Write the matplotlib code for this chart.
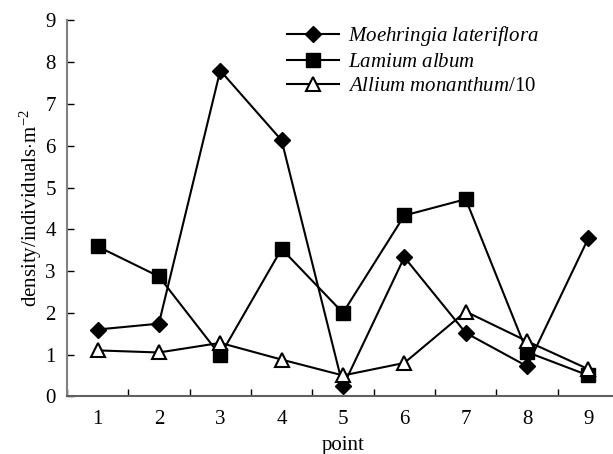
import matplotlib.pyplot as plt

plt.rcParams['font.family'] = 'Liberation Serif'
plt.rcParams['mathtext.fontset'] = 'custom'
plt.rcParams['mathtext.rm'] = 'Liberation Serif'
plt.rcParams['mathtext.it'] = 'Liberation Serif:italic'

points = [1, 2, 3, 4, 5, 6, 7, 8, 9]
moehringia = [1.60, 1.74, 7.80, 6.13, 0.24, 3.33, 1.52, 0.72, 3.79]
lamium = [3.59, 2.87, 0.98, 3.53, 2.00, 4.33, 4.72, 1.06, 0.50]
allium = [1.10, 1.05, 1.28, 0.88, 0.50, 0.80, 2.03, 1.32, 0.65]

fig = plt.figure(figsize=(6.13, 4.54), dpi=100)
# axes run past the right edge of the picture, like the original
ax = fig.add_axes([0.109, 0.127, 0.901, 0.828])

ax.plot(points, moehringia, color='black', linewidth=1.5, marker='D', markersize=8,
        label=r'$\mathit{Moehringia\ lateriflora}$')
ax.plot(points, lamium, color='black', linewidth=1.5, marker='s', markersize=10,
        label=r'$\mathit{Lamium\ album}$')
ax.plot(points, allium, color='black', linewidth=1.5, marker='^', markersize=10,
        markerfacecolor='white', markeredgewidth=1.5,
        label=r'$\mathit{Allium\ monanthum}$/10')

ax.set_xlim(0.5, 9.5)
ax.set_ylim(0, 9)
ax.set_xticks(points)
ax.set_xticks([p - 0.5 for p in points] + [9.5], minor=True)
ax.tick_params(axis='x', which='major', length=0, labelsize=15, pad=10)
ax.tick_params(axis='x', which='minor', length=5, width=1, direction='in')
ax.set_yticks(range(10))
ax.tick_params(axis='y', length=5, width=1, direction='in', labelsize=15, pad=8)

ax.spines['top'].set_visible(False)
ax.spines['right'].set_visible(False)
ax.spines['left'].set_color('#808080')
ax.spines['bottom'].set_color('#606060')
ax.spines['left'].set_linewidth(1.5)
ax.spines['bottom'].set_linewidth(1.5)

ax.set_xlabel('point', fontsize=15, labelpad=5)
ax.set_ylabel(r'density/individuals$\cdot$m$^{-2}$', fontsize=15, labelpad=1)

ax.legend(loc='upper left', bbox_to_anchor=(287 / 613, 1 - 24 / 454),
          bbox_transform=fig.transFigure, frameon=False, fontsize=15,
          borderpad=0, borderaxespad=0, handlelength=2.5,
          labelspacing=0.22, handletextpad=0.43)

fig.savefig('out.png', dpi=100)
